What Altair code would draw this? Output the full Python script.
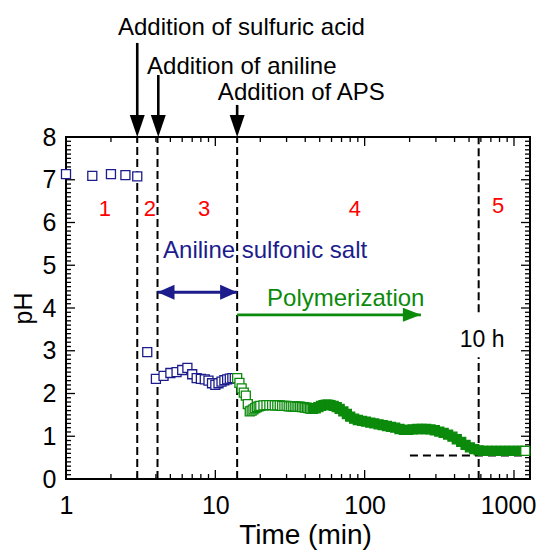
import altair as alt
import pandas as pd

# ---------------- data ----------------
blue_t = [1.0, 1.5, 2.0, 2.5, 3.0, 3.5, 4.0, 4.5, 5.0, 5.5, 6.0, 6.5, 7.0, 7.5,
          8.0, 8.5, 9.0, 9.5, 10.0, 10.5, 11.0, 11.5, 12.0, 12.5, 13.0, 13.5]
blue_ph = [7.13, 7.09, 7.13, 7.11, 7.08, 2.97, 2.34, 2.41, 2.48, 2.50, 2.55, 2.60, 2.45, 2.36,
           2.34, 2.33, 2.30, 2.24, 2.20, 2.24, 2.28, 2.31, 2.33, 2.35, 2.36, 2.36]

green_t = [14.0, 14.5, 15.0, 15.5, 16.0, 16.5, 17.0, 17.5, 18.0, 18.5, 19.0, 19.5,
           20, 21, 22, 23, 24, 25, 26, 27, 28, 29, 30, 31, 32, 33, 34, 35, 36, 37, 38,
           39, 40, 41, 42, 43, 44, 45, 47, 49, 51, 53, 55, 57, 59, 62, 65, 68, 72, 76,
           80, 85, 90, 96, 102, 109, 116, 124, 132, 141, 150, 160, 171, 183, 196, 210,
           225, 241, 258, 276, 295, 316, 338, 362, 387, 414, 443, 474, 507, 542, 580,
           620, 663, 710, 760, 813, 870, 930, 995, 1065, 1130, 1190]
green_ph = [2.36, 2.25, 2.12, 2.02, 1.95, 1.75, 1.58, 1.60, 1.63, 1.66, 1.68, 1.70,
            1.71, 1.72, 1.73, 1.73, 1.73, 1.72, 1.72, 1.72, 1.71, 1.71, 1.71, 1.70, 1.70,
            1.70, 1.70, 1.69, 1.69, 1.69, 1.68, 1.68, 1.67, 1.67, 1.66, 1.65, 1.64, 1.64,
            1.65, 1.68, 1.71, 1.73, 1.74, 1.74, 1.73, 1.71, 1.68, 1.64, 1.58, 1.52, 1.46,
            1.41, 1.38, 1.36, 1.34, 1.32, 1.30, 1.28, 1.26, 1.24, 1.22, 1.20, 1.17, 1.15,
            1.15, 1.16, 1.17, 1.17, 1.17, 1.16, 1.14, 1.11, 1.08, 1.04, 0.99, 0.93, 0.87,
            0.80, 0.74, 0.70, 0.67, 0.66, 0.66, 0.66, 0.66, 0.66, 0.66, 0.66, 0.66, 0.66,
            0.66, 0.66]

x_major = [1, 10, 100, 1000]
x_minor = [2, 3, 4, 5, 6, 7, 8, 9, 20, 30, 40, 50, 60, 70, 80, 90,
           200, 300, 400, 500, 600, 700, 800, 900]
y_major = [0, 1, 2, 3, 4, 5, 6, 7, 8]
y_minor = [i / 10 for i in range(1, 80) if i % 10 != 0]

# event lines (min)
vline_t = [3.0, 4.1, 14.0, 580, 580]
vline_lo = [0, 0, 0, 0, 3.9]
vline_hi = [8, 8, 8, 2.85, 8]

hline_t1, hline_t2, hline_ph = [201], [1133], [0.55]

arrow_t = [3.0, 4.15, 14.0]
arrow_top = [10.2, 9.45, 8.75]

top_text = ["Addition of sulfuric acid", "Addition of aniline", "Addition of APS"]
top_text_t = [2.23, 3.49, 10.4]
top_text_ph = [10.39, 9.47, 8.87]

region_text = ["1", "2", "3", "4", "5"]
region_t = [1.82, 3.65, 8.4, 86, 782]
region_ph = [6.32, 6.32, 6.32, 6.32, 6.38]

salt_t1, salt_t2, salt_ph = 4.1, 14.0, 4.37
poly_t1, poly_t2, poly_ph = 14.0, 238, 3.84

# ---------------- style ----------------
NAVY = "#1C1C8C"
GREEN = "#0B8A0B"
RED = "#FF0000"
FONT = "Liberation Sans"
W, H = 464, 342
MAJ, MIN = 9, 5

xs = alt.Scale(type="log", domain=[1, 1280], nice=False)
ys = alt.Scale(domain=[0, 8], nice=False)

AX = alt.Axis(values=x_major, format="d", ticks=False, tickSize=0, domain=False,
              grid=False, labelFontSize=25, labelFont=FONT, labelColor="black",
              labelPadding=14, labelFlush=False, labelOverlap=False,
              labelOffset={"condition": {"test": "datum.value >= 1000", "value": -6},
                           "value": 0},
              titleFontSize=28, titleFont=FONT, titleFontWeight="normal",
              titleColor="black", titlePadding=3, titleX=239, titleAlign="center")
AY = alt.Axis(values=y_major, ticks=False, tickSize=0, domain=False, grid=False,
              labelFontSize=25, labelFont=FONT, labelColor="black",
              labelPadding=10, labelFlush=False, labelOverlap=False,
              titleFontSize=25, titleFont=FONT, titleFontWeight="normal",
              titleColor="black", titlePadding=6)


def X(f="t"):
    return alt.X(f"{f}:Q", scale=xs, axis=AX, title="Time (min)")


def Y(f="ph"):
    return alt.Y(f"{f}:Q", scale=ys, axis=AY, title="pH")


layers = []

# inward ticks on all four sides
def yticks(vals, length, side):
    df = pd.DataFrame({"v": vals})
    xa, xb = (0, length) if side == "left" else (W, W - length)
    return alt.Chart(df).mark_rule(color="black", strokeWidth=1.3).encode(
        y=Y("v"), x=alt.value(xa), x2=alt.value(xb))


def xticks(vals, length, side):
    df = pd.DataFrame({"v": vals})
    ya, yb = (H, H - length) if side == "bottom" else (0, length)
    return alt.Chart(df).mark_rule(color="black", strokeWidth=1.3).encode(
        x=X("v"), y=alt.value(ya), y2=alt.value(yb))


for side in ["left", "right"]:
    layers.append(yticks(y_minor, MIN, side))
    layers.append(yticks(y_major, MAJ, side))
for side in ["bottom", "top"]:
    layers.append(xticks(x_minor, MIN, side))
    layers.append(xticks(x_major, MAJ, side))

# dashed vertical lines
vl_df = pd.DataFrame({"t": vline_t, "lo": vline_lo, "hi": vline_hi})
layers.append(alt.Chart(vl_df).mark_rule(color="black", strokeWidth=2, strokeDash=[8, 4]).encode(
    x=X("t"), y=Y("lo"), y2="hi:Q"))

# dashed horizontal line
hl_df = pd.DataFrame({"t1": hline_t1, "t2": hline_t2, "ph": hline_ph})
layers.append(alt.Chart(hl_df).mark_rule(color="black", strokeWidth=2, strokeDash=[8, 5]).encode(
    x=X("t1"), x2="t2:Q", y=Y("ph")))

# blue points
blue_df = pd.DataFrame({"t": blue_t, "ph": blue_ph})
layers.append(alt.Chart(blue_df).mark_point(
    shape="square", size=81, filled=True, fill="white", stroke=NAVY, strokeWidth=1.3, opacity=1
).encode(x=X("t"), y=Y("ph")))

# green points
green_df = pd.DataFrame({"t": green_t, "ph": green_ph})
layers.append(alt.Chart(green_df).mark_point(
    shape="square", size=81, filled=True, stroke=GREEN, strokeWidth=1.3, opacity=1
).encode(
    x=X("t"), y=Y("ph"),
    fill=alt.condition((alt.datum.t >= 45) & (alt.datum.t < 1180),
                       alt.value(GREEN), alt.value("white")),
))

# top arrows
ar_df = pd.DataFrame({"t": arrow_t, "top": arrow_top, "tip": [8.4] * len(arrow_t),
                      "head": [8.0] * len(arrow_t)})
layers.append(alt.Chart(ar_df).mark_rule(color="black", strokeWidth=2.6).encode(
    x=X("t"), y=Y("top"), y2="tip:Q"))
layers.append(alt.Chart(ar_df).mark_point(
    shape="M-0.68,-2L0.68,-2L0,0Z", size=484, filled=True, color="black", opacity=1, strokeWidth=0
).encode(x=X("t"), y=Y("head")))

# navy double arrow
salt_df = pd.DataFrame({"t1": [salt_t1], "t2": [salt_t2], "ph": [salt_ph]})
layers.append(alt.Chart(salt_df).mark_rule(color=NAVY, strokeWidth=3).encode(
    x=X("t1"), x2="t2:Q", y=Y("ph")))
layers.append(alt.Chart(salt_df).mark_point(
    shape="M0,0L2,-0.88L2,0.88Z", size=289, filled=True, color=NAVY, opacity=1, strokeWidth=0
).encode(x=X("t1"), y=Y("ph")))
layers.append(alt.Chart(salt_df).mark_point(
    shape="M0,0L-2,-0.88L-2,0.88Z", size=289, filled=True, color=NAVY, opacity=1, strokeWidth=0
).encode(x=X("t2"), y=Y("ph")))

# green arrow
poly_df = pd.DataFrame({"t1": [poly_t1], "t2": [poly_t2], "ph": [poly_ph]})
layers.append(alt.Chart(poly_df).mark_rule(color=GREEN, strokeWidth=2.6).encode(
    x=X("t1"), x2="t2:Q", y=Y("ph")))
layers.append(alt.Chart(poly_df).mark_point(
    shape="M0,0L-2,-0.78L-2,0.78Z", size=324, filled=True, color=GREEN, opacity=1, strokeWidth=0
).encode(x=X("t2"), y=Y("ph")))

# texts
tt_df = pd.DataFrame({"t": top_text_t, "ph": top_text_ph, "s": top_text})
layers.append(alt.Chart(tt_df).mark_text(
    align="left", baseline="alphabetic", font=FONT, fontSize=24, color="black"
).encode(x=X("t"), y=Y("ph"), text="s:N"))

rg_df = pd.DataFrame({"t": region_t, "ph": region_ph, "s": region_text})
layers.append(alt.Chart(rg_df).mark_text(
    align="center", baseline="middle", font=FONT, fontSize=22, color=RED
).encode(x=X("t"), y=Y("ph"), text="s:N"))

lab_df = pd.DataFrame({"t": [4.465], "ph": [5.17], "s": ["Aniline sulfonic salt"]})
layers.append(alt.Chart(lab_df).mark_text(
    align="left", baseline="alphabetic", font=FONT, fontSize=24, color=NAVY
).encode(x=X("t"), y=Y("ph"), text="s:N"))

pol_df = pd.DataFrame({"t": [22.2], "ph": [4.05], "s": ["Polymerization"]})
layers.append(alt.Chart(pol_df).mark_text(
    align="left", baseline="alphabetic", font=FONT, fontSize=24, color=GREEN
).encode(x=X("t"), y=Y("ph"), text="s:N"))

h_df = pd.DataFrame({"t": [611], "ph": [3.09], "s": ["10 h"]})
layers.append(alt.Chart(h_df).mark_text(
    align="center", baseline="alphabetic", font=FONT, fontSize=23, color="black"
).encode(x=X("t"), y=Y("ph"), text="s:N"))

chart = alt.layer(*layers).properties(
    width=W, height=H,
    autosize=alt.AutoSizeParams(type="none"),
    padding={"left": 58, "top": 129, "right": 7, "bottom": 71},
).configure_view(stroke="black", strokeWidth=2)

chart.save("out.html", embed_options={"renderer": "svg", "actions": False})
